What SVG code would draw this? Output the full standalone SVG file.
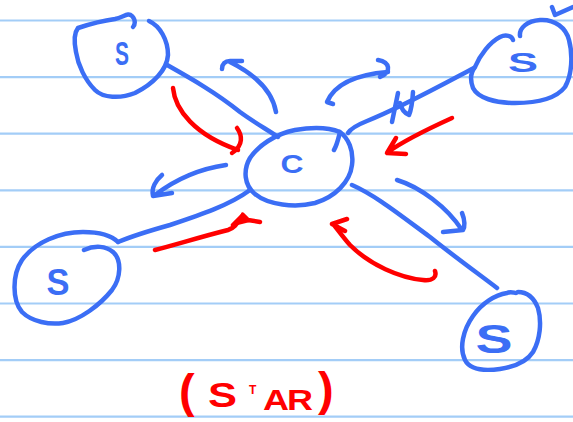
<svg xmlns="http://www.w3.org/2000/svg" width="573" height="422" viewBox="0 0 573 422">
<style>
.rule{stroke:#a3cdf7;stroke-width:2.2}
.b{fill:none;stroke:#3b6ef5;stroke-width:4.5;stroke-linecap:round;stroke-linejoin:round}
.r{fill:none;stroke:#ff0000;stroke-width:4.5;stroke-linecap:round;stroke-linejoin:round}
.bt{fill:#3b6ef5;font-family:"Liberation Sans",Arial,sans-serif;font-weight:bold;text-anchor:middle}
.rt{fill:#ff0000;font-family:"Liberation Sans",Arial,sans-serif;font-weight:bold}
</style>
<rect width="573" height="422" fill="#ffffff"/>
<g id="paper">
<line class="rule" x1="0" y1="20.5" x2="573" y2="20.5"/>
<line class="rule" x1="0" y1="77.1" x2="573" y2="77.1"/>
<line class="rule" x1="0" y1="133.7" x2="573" y2="133.7"/>
<line class="rule" x1="0" y1="190.3" x2="573" y2="190.3"/>
<line class="rule" x1="0" y1="246.9" x2="573" y2="246.9"/>
<line class="rule" x1="0" y1="303.5" x2="573" y2="303.5"/>
<line class="rule" x1="0" y1="360.1" x2="573" y2="360.1"/>
<line class="rule" x1="0" y1="416.7" x2="573" y2="416.7"/>
</g>
<g id="connectors">
<path class="b" d="M 167,65 C 190,78 215,92 240,112 C 255,123 268,130 278,137"/>
<path class="b" d="M 474,68 C 440,86 400,108 367,121 C 357,125 351,128 348,133"/>
<path class="b" d="M 398,93 L 392,122 M 413,92 Q 412,108 409,115 Q 402,112 400,103"/>
<path class="b" d="M 250,190 C 230,205 200,215 170,225 C 145,232 130,237 118,242"/>
<path class="b" d="M 352,185 C 375,195 400,215 430,237 C 455,257 480,275 497,288"/>
<path class="b" d="M 276,112 C 273,95 262,78 230,62 M 222,69 C 222,64 225,61 230,61 L 242,61"/>
<path class="b" d="M 333,104 L 327,102 C 333,88 350,75 388,72 M 378,60 C 390,62 392,72 380,77"/>
<path class="b" d="M 226,165 C 205,168 180,176 155,195 M 162,175 C 156,180 151,188 153,196 L 172,193"/>
<path class="b" d="M 397,180 C 420,187 447,207 462,230 M 462,213 C 465,220 465,227 463,230 L 443,232"/>
<path class="r" d="M 173,88 C 175,110 195,135 238,150 M 237,128 C 242,135 244,145 232,153"/>
<path class="r" d="M 452,118 C 430,128 405,140 388,152 M 396,138 L 387,153 L 406,154"/>
<path class="r" d="M 155,250 C 175,245 200,237 228,230 C 235,228 238,222 243,215 M 233,225 L 243,215 L 248,220 L 260,222"/>
<path d="M 234,226 L 242,212 L 250,222 Z" fill="#ff0000"/>
<path class="r" d="M 435,271 C 437,277 433,281 423,280 C 400,278 370,265 350,245 C 343,237 338,230 334,225 M 347,219 L 332,224 L 345,231"/>
</g>
<g id="node-s-topleft">
<path class="b" d="M 149,21 C 160,26 168,40 168,55 C 167,70 153,84 135,93 C 120,99 103,98 95,90 C 85,80 78,65 76,52 C 74,42 74,33 78,28 C 90,24 100,21 115,19 C 124,17 128,12 132,16 C 136,20 135,25 133,27"/>
<text class="bt" x="122" y="65" font-size="34" textLength="14" lengthAdjust="spacingAndGlyphs">S</text>
</g>
<g id="node-c">
<path class="b" d="M 340,132 C 330,128 313,127 295,130 C 275,134 258,146 250,158 C 243,170 244,185 255,194 C 268,205 295,208 315,203 C 335,197 350,182 352,165 C 354,150 348,138 340,132 C 338,140 337,145 334,150"/>
<text class="bt" x="292" y="173" font-size="25" textLength="23" lengthAdjust="spacingAndGlyphs">C</text>
</g>
<g id="node-s-topright">
<path class="b" d="M 475,67 C 480,55 490,42 500,37 C 506,34 512,36 513,40 M 520,36 C 519,28 527,21 540,20 C 555,19 566,28 569,40 C 573,55 572,75 565,87 C 555,100 535,103 515,103 C 495,103 478,98 473,88 C 470,80 471,72 475,67 M 552,7 L 555,15 L 573,7"/>
<text class="bt" x="523" y="72" font-size="28" textLength="30" lengthAdjust="spacingAndGlyphs">S</text>
</g>
<g id="node-s-bottomleft">
<path class="b" d="M 118,242 C 112,236 100,232 83,232 C 60,232 35,242 22,260 C 12,275 12,300 22,312 C 32,322 50,325 63,323 C 80,320 100,305 112,290 C 121,278 122,260 113,252 C 106,246 95,245 84,250"/>
<text class="bt" x="58" y="295" font-size="37" textLength="23" lengthAdjust="spacingAndGlyphs">S</text>
</g>
<g id="node-s-bottomright">
<path class="b" d="M 518,292 C 527,292 534,298 538,308 C 542,322 540,340 533,352 C 526,363 513,367 500,369 C 485,371 470,370 465,360 C 459,348 463,330 473,316 C 482,303 495,295 507,293 C 511,291 514,293 516,293"/>
<text class="bt" x="494" y="353" font-size="41" textLength="37" lengthAdjust="spacingAndGlyphs">S</text>
</g>
<g id="label-star">
<text class="rt"><tspan x="179" y="407" font-size="47">(</tspan><tspan x="208" y="407" font-size="35" textLength="29" lengthAdjust="spacingAndGlyphs">S</tspan><tspan x="249" y="394" font-size="12">T</tspan><tspan x="263" y="410" font-size="30" textLength="26" lengthAdjust="spacingAndGlyphs">A</tspan><tspan x="287" y="410" font-size="30" textLength="26" lengthAdjust="spacingAndGlyphs">R</tspan><tspan x="318" y="405" font-size="47">)</tspan></text>
</g>
</svg>
